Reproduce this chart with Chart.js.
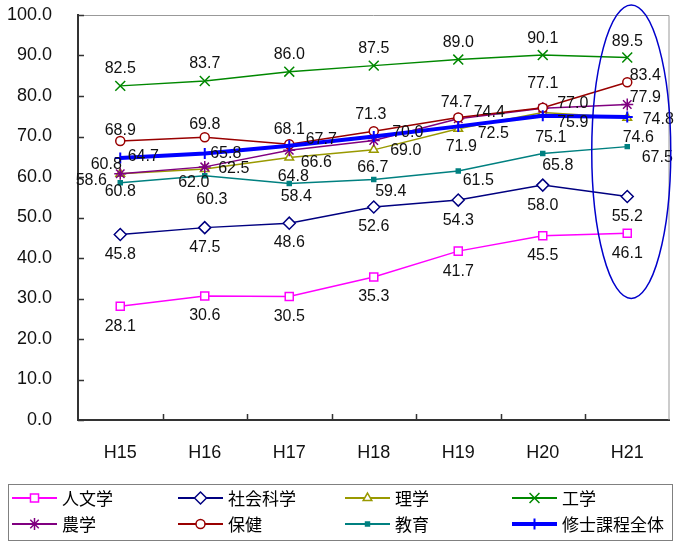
<!DOCTYPE html>
<html>
<head>
<meta charset="utf-8">
<script src="https://cdn.jsdelivr.net/npm/chart.js@4.4.0/dist/chart.umd.min.js"></script>
<style>
    html, body { margin: 0; padding: 0; background: #fff; }
    #wrap { width: 678px; height: 543px; }
</style>
</head>
<body>
<div id="wrap"><canvas id="chart" width="678" height="543"></canvas></div>
<script>
const years = ['H15', 'H16', 'H17', 'H18', 'H19', 'H20', 'H21'];
const yTicks = [0, 10, 20, 30, 40, 50, 60, 70, 80, 90, 100];

const jinbun   = [28.1, 30.6, 30.5, 35.3, 41.7, 45.5, 46.1];
const shakai   = [45.8, 47.5, 48.6, 52.6, 54.3, 58.0, 55.2];
const rigaku   = [60.8, 62.0, 64.8, 66.7, 71.9, 75.9, 74.6];
const kougaku  = [82.5, 83.7, 86.0, 87.5, 89.0, 90.1, 89.5];
const nougaku  = [60.8, 62.5, 66.6, 69.0, 74.4, 77.0, 77.9];
const hoken    = [68.9, 69.8, 68.1, 71.3, 74.7, 77.1, 83.4];
const kyouiku  = [58.6, 60.3, 58.4, 59.4, 61.5, 65.8, 67.5];
const shushi   = [64.7, 65.8, 67.7, 70.0, 72.5, 75.1, 74.8];

/* where each value label sits, relative to its point (text centre) */
const labelOffsets = [
    [[0, 20], [0, 20], [0, 20], [0, 20], [0, 20], [0, 20], [0, 20]],
    [[0, 20], [0, 20], [0, 19], [0, 20], [0, 21], [0, 20], [0, 20]],
    [[0, 18], [-11, 14], [4, 19], [-1, 18], [3, 18], [30, 10], [11, 20]],
    [[0, -17], [0, -17], [0, -17], [0, -17], [0, -17], [0, -17], [0, -16]],
    [[-14, -9], [29, 2], [27, 12], [32, 10], [31, -6], [30, -5], [18, -7]],
    [[0, -10], [0, -13], [0, -15], [-3, -17], [-2, -15], [0, -24], [18, -7]],
    [[-29, -2], [7, 24], [7, 13], [17, 12], [20, 10], [15, 12], [30, 11]],
    [[23, -1], [21, 0], [32, -6], [34, -4], [35, 7], [8, 22], [31, 3]]
];

function series(label, data, color, pointStyle, radius, extra) {
    return Object.assign({
        label,
        data,
        borderColor: color,
        backgroundColor: color,
        pointBorderColor: color,
        pointBackgroundColor: '#fff',
        pointStyle,
        pointRadius: radius,
        pointHoverRadius: radius,
        pointBorderWidth: 1.5,
        borderWidth: 1.5,
        tension: 0
    }, extra || {});
}

const datasets = [
    series('人文学', jinbun, '#FF00FF', 'rect', 5.7),
    series('社会科学', shakai, '#000080', 'rectRot', 6),
    series('理学', rigaku, '#999900', 'triangle', 5),
    series('工学', kougaku, '#008800', 'crossRot', 7),
    series('農学', nougaku, '#800080', 'star', 6),
    series('保健', hoken, '#990000', 'circle', 4.5),
    series('教育', kyouiku, '#008080', 'rect', 2.8, { pointBackgroundColor: '#008080' }),
    series('修士課程全体', shushi, '#0000FF', 'cross', 5.5, { borderWidth: 4, pointBorderWidth: 2 })
];
datasets.forEach((d, i) => { d.order = datasets.length - i; });

/* Plugins */

const frame = {
    id: 'frame',
    beforeDatasetsDraw(chart) {
        const { ctx, chartArea: a, scales: { x, y } } = chart;
        ctx.save();
        ctx.strokeStyle = '#999';
        ctx.lineWidth = 1;
        ctx.beginPath();
        ctx.moveTo(a.left, a.top + 0.5);
        ctx.lineTo(a.right - 0.5, a.top + 0.5);
        ctx.lineTo(a.right - 0.5, a.bottom);
        ctx.stroke();

        ctx.strokeStyle = '#333';
        ctx.lineWidth = 1.5;
        ctx.beginPath();
        yTicks.forEach(v => {
            const py = Math.round(y.getPixelForValue(v)) + 0.5;
            ctx.moveTo(a.left, py);
            ctx.lineTo(a.left + 6, py);
        });
        for (let i = 0; i < years.length - 1; i++) {
            const px = Math.round((x.getPixelForValue(i) + x.getPixelForValue(i + 1)) / 2) + 0.5;
            ctx.moveTo(px, a.bottom);
            ctx.lineTo(px, a.bottom - 6);
        }
        ctx.stroke();
        ctx.restore();
    }
};

const valueLabels = {
    id: 'valueLabels',
    afterDatasetsDraw(chart) {
        const { ctx } = chart;
        ctx.save();
        ctx.font = '16px "Liberation Sans", Arial, sans-serif';
        ctx.fillStyle = '#111';
        ctx.textAlign = 'center';
        ctx.textBaseline = 'middle';
        chart.data.datasets.forEach((ds, i) => {
            const meta = chart.getDatasetMeta(i);
            meta.data.forEach((pt, j) => {
                const off = labelOffsets[i][j];
                ctx.fillText(ds.data[j].toFixed(1), pt.x + off[0], pt.y + off[1]);
            });
        });
        ctx.restore();
    }
};

const ellipse = {
    id: 'ellipse',
    afterDraw(chart) {
        const { ctx, scales: { x, y } } = chart;
        const cx = x.getPixelForValue(years.length - 1) + 4;
        const top = y.getPixelForValue(102.5);
        const bottom = y.getPixelForValue(30);
        ctx.save();
        ctx.strokeStyle = '#0000CC';
        ctx.lineWidth = 1.5;
        ctx.beginPath();
        ctx.ellipse(cx, (top + bottom) / 2, 39.5, (bottom - top) / 2, 0, 0, Math.PI * 2);
        ctx.stroke();
        ctx.restore();
    }
};

const gridLegend = {
    id: 'gridLegend',
    afterDraw(chart) {
        const { ctx } = chart;
        const cols = [12, 178, 345, 512];
        const rows = [498, 524];
        ctx.save();
        ctx.strokeStyle = '#808080';
        ctx.lineWidth = 1;
        ctx.strokeRect(8.5, 484.5, 664, 56);
        ctx.font = '17px "Noto Sans CJK JP", sans-serif';
        ctx.textAlign = 'left';
        ctx.textBaseline = 'middle';
        chart.data.datasets.forEach((ds, i) => {
            const lx = cols[i % 4];
            const ly = rows[Math.floor(i / 4)];
            ctx.strokeStyle = ds.borderColor;
            ctx.lineWidth = ds.borderWidth === 4 ? 4 : 2;
            ctx.beginPath();
            ctx.moveTo(lx, ly);
            ctx.lineTo(lx + 45, ly);
            ctx.stroke();
            ctx.fillStyle = ds.pointBackgroundColor;
            ctx.strokeStyle = ds.pointBorderColor;
            ctx.lineWidth = ds.pointBorderWidth;
            Chart.helpers.drawPoint(ctx, {
                pointStyle: ds.pointStyle,
                radius: ds.pointRadius,
                rotation: 0,
                borderWidth: ds.pointBorderWidth
            }, lx + 22.5, ly);
            ctx.fillStyle = '#000';
            ctx.fillText(ds.label, lx + 50, ly + 1);
        });
        ctx.restore();
    }
};

new Chart(document.getElementById('chart'), {
    type: 'line',
    data: { labels: years, datasets },
    options: {
        responsive: false,
        animation: false,
        devicePixelRatio: 1,
        layout: { padding: { top: 15, right: 3, left: 0, bottom: 0 } },
        plugins: {
            legend: { display: false },
            tooltip: { enabled: false }
        },
        scales: {
            x: {
                offset: true,
                grid: { display: false, drawTicks: false },
                border: { display: true, color: '#333', width: 2 },
                ticks: {
                    padding: 22,
                    color: '#111',
                    font: { family: '"Liberation Sans", Arial, sans-serif', size: 18 }
                },
                afterFit: s => {
                    s.height = 123;
                    s.paddingLeft = 0;
                    s.paddingRight = 0;
                }
            },
            y: {
                min: 0,
                max: 100,
                grid: { display: false, drawTicks: false },
                border: { display: true, color: '#333', width: 2 },
                afterBuildTicks: s => { s.ticks = yTicks.map(v => ({ value: v })); },
                ticks: {
                    padding: 26,
                    color: '#111',
                    font: { family: '"Liberation Sans", Arial, sans-serif', size: 18 },
                    callback: v => Number(v).toFixed(1)
                },
                afterFit: s => {
                    s.width = 78;
                    s.paddingTop = 0;
                    s.paddingBottom = 0;
                }
            }
        }
    },
    plugins: [frame, valueLabels, ellipse, gridLegend]
});
</script>
</body>
</html>
